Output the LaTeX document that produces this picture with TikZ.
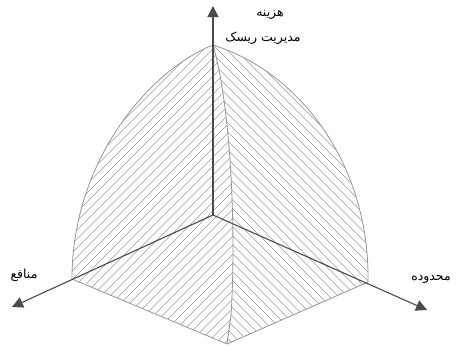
\documentclass[tikz,border=0pt]{standalone}
\usepackage{fontspec}
\newfontfamily\arabicfont[Script=Arabic]{DejaVu Sans}
\TeXXeTstate=1
\usetikzlibrary{arrows.meta}
\definecolor{axisgray}{HTML}{4A4A4A}
\definecolor{edgegray}{HTML}{959595}
\definecolor{hatchgray}{HTML}{9E9E9E}
\begin{document}
\begin{tikzpicture}[x=1pt,y=-1pt,
  axis/.style={draw=axisgray,line width=1.1pt,-{Triangle[width=11pt,length=11pt]}},
  edge/.style={draw=edgegray,line width=0.8pt},
  hatch/.style={draw=hatchgray,line width=0.5pt},
  lbl/.style={font=\arabicfont\fontsize{12.5}{15}\selectfont,inner sep=0pt}]
\useasboundingbox (0,0) rectangle (458,349);
\coordinate (O) at (213,215);
\coordinate (T) at (213,45);
\coordinate (L) at (72,279);
\coordinate (R) at (368,282);
\coordinate (B) at (227,344);
\coordinate (S) at (231,315);
\coordinate (TT) at (213,6);
\coordinate (LT) at (12,307);
\coordinate (RT) at (427,310);
% left face hatching
\begin{scope}
  \clip (T) .. controls (150,70) and (72,160) .. (L) -- (B) -- (S)
        .. controls (236,240) and (232,110) .. (T) -- cycle;
  \foreach \c in {100,109,...,650} {\draw[hatch] (\c,0) -- (\c-400,400);}
\end{scope}
% right face hatching
\begin{scope}
  \clip (T) .. controls (232,110) and (236,240) .. (S) -- (B) -- (R)
        .. controls (370,165) and (300,72) .. (T) -- cycle;
  \foreach \c in {-300,-291,...,400} {\draw[hatch] (\c,0) -- (\c+400,400);}
\end{scope}
% outlines
\draw[edge] (T) .. controls (150,70) and (72,160) .. (L) -- (B) -- (R)
        .. controls (370,165) and (300,72) .. (T);
\draw[edge] (T) .. controls (232,110) and (236,240) .. (S) -- (B);
% axes
\draw[axis] (O) -- (TT);
\draw[axis] (O) -- (LT);
\draw[axis] (O) -- (RT);
% labels
\node[lbl] (l1) at (270,15) {\beginR هزینه\endR};
\node[lbl] (l2) at (263,38) {\beginR مدیریت ریسک\endR};
\node[lbl] (l3) at (24,275) {\beginR منافع\endR};
\node[lbl] (l4) at (431,279) {\beginR محدوده\endR};
\end{tikzpicture}
\end{document}
